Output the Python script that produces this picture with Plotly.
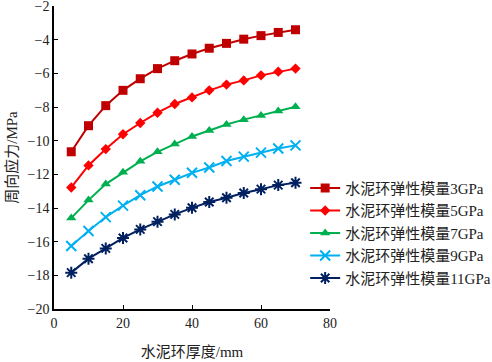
import plotly.graph_objects as go

thickness = [5, 10, 15, 20, 25, 30, 35, 40, 45, 50, 55, 60, 65, 70]
s3 = [-10.66, -9.11, -7.92, -7.01, -6.32, -5.72, -5.25, -4.85, -4.51, -4.22, -3.97, -3.76, -3.57, -3.41]
s5 = [-12.78, -11.47, -10.50, -9.62, -8.95, -8.34, -7.82, -7.43, -7.01, -6.67, -6.42, -6.12, -5.90, -5.72]
s7 = [-14.60, -13.53, -12.58, -11.88, -11.23, -10.66, -10.20, -9.75, -9.40, -9.04, -8.75, -8.50, -8.24, -7.98]
s9 = [-16.26, -15.37, -14.54, -13.86, -13.24, -12.72, -12.32, -11.91, -11.59, -11.21, -10.95, -10.71, -10.47, -10.28]
s11 = [-17.84, -17.01, -16.40, -15.78, -15.27, -14.81, -14.38, -13.99, -13.64, -13.39, -13.11, -12.88, -12.64, -12.50]

names = ["水泥环弹性模量3GPa", "水泥环弹性模量5GPa", "水泥环弹性模量7GPa",
         "水泥环弹性模量9GPa", "水泥环弹性模量11GPa"]
series = [s3, s5, s7, s9, s11]
colors = ["#C00000", "#FF0000", "#00B050", "#00B0F0", "#002060"]
symbols = ["square", "diamond", "triangle-up", "x-thin-open", "asterisk-open"]
sizes = [9, 8, 9, 10, 10]

FONT = "Liberation Serif, Times New Roman, Noto Sans CJK SC, serif"

fig = go.Figure()
for name, ys, c, sym, sz in zip(names, series, colors, symbols, sizes):
    mk = dict(symbol=sym, size=sz, color=c)
    if sym in ("x-thin-open", "asterisk-open"):
        mk["line"] = dict(color=c, width=2)
    fig.add_trace(go.Scatter(x=thickness, y=ys, mode="lines+markers", name=name,
                             line=dict(color=c, width=2), marker=mk))

fig.update_layout(
    width=492, height=362,
    margin=dict(l=54, r=162, t=6, b=53, autoexpand=False),
    paper_bgcolor="white", plot_bgcolor="white",
    font=dict(family=FONT, size=14, color="#222222"),
    showlegend=True,
    legend=dict(x=0.91, xanchor="left", y=0.25, yanchor="middle",
                font=dict(family=FONT, size=15, color="#222222"),
                bgcolor="rgba(0,0,0,0)", itemwidth=30, tracegroupgap=0),
    xaxis=dict(range=[0, 80], tickvals=[0, 20, 40, 60, 80], showgrid=False, zeroline=False,
               showline=True, linecolor="black", linewidth=1.5, automargin=False,
               ticks="inside", ticklen=4, tickcolor="black",
               title=dict(text="水泥环厚度/mm", font=dict(family=FONT, size=15), standoff=17)),
    yaxis=dict(range=[-20, -2], tickvals=list(range(-20, -1, 2)), showgrid=False, zeroline=False,
               showline=True, linecolor="black", linewidth=1.5, automargin=False,
               ticklabeloverflow="allow",
               ticks="inside", ticklen=4, tickcolor="black",
               title=dict(text="周向应力/MPa", font=dict(family=FONT, size=15), standoff=6)),
)

fig.write_html("out.html", config={"displayModeBar": False},
               post_script="document.body.style.margin='0';")
